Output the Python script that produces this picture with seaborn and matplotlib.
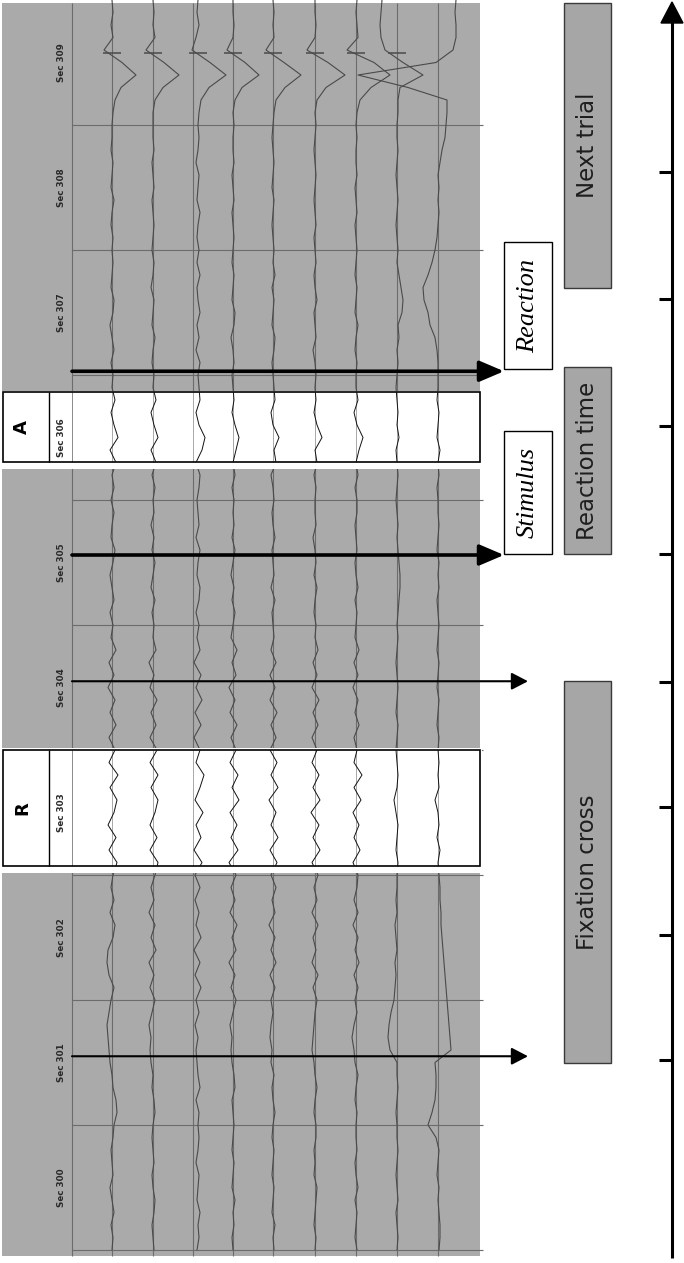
import numpy as np
import pandas as pd
import matplotlib
matplotlib.use("Agg")
import matplotlib.pyplot as plt
from matplotlib.patches import Rectangle, Polygon
import seaborn as sns

sns.set_theme(style="white")
plt.rcParams['font.family'] = ['DejaVu Sans']

# ---------------- data ----------------
seconds = [300, 301, 302, 303, 304, 305, 306, 307, 308, 309]
sec_labels = ["Sec %d" % s for s in seconds]
sample_t = np.round(np.arange(300.0, 310.0001, 0.1), 1)   # 101 samples, 0.1 s apart

# horizontal position of each channel's baseline (px) and its grid line
channel_x = [112, 153, 198, 233, 273, 315, 356, 397, 438]
grid_x = [112, 153, 193, 233, 273, 315, 356, 397, 438]

# trace offsets (px) per 0.1 s, from Sec 300.0 up to 310.0
ch1 = [0, 1, -1, 2, 0, -2, 1, 0, -1, 1,
       2, 5, 4, 1, 0, -2, -3, -4, -5, -3,
       -1, 2, -3, -5, -4, 1, 3, -2, 2, -1,
       1, 5, -3, 4, -4, 2, 5, -2, 6, -3,
       3, -3, 4, -2, 3, -4, 2, -3, 4, -1,
       1, -2, 2, 0, -2, 1, 3, -1, 0, 2,
       -1, 2, 0, 4, -2, 6, 2, -1, 3, 0,
       1, -1, 2, 0, -2, 1, 2, -1, 0, 1,
       0, 1, -1, 0, 2, -1, 0, 1, -1, 0,
       0, 1, 3, 9, 24, 10, -8, 1, -1, 1,
       0]
ch2 = [1, 0, -1, 1, 2, 0, -1, 1, 0, -1,
       0, 2, 1, -1, 0, -2, -3, -2, -4, -1,
       2, -3, 1, -4, 3, -2, 2, -4, 1, -2,
       2, 5, -3, 4, -3, 2, 5, -2, 5, -3,
       4, -3, 3, -2, 4, -3, 1, -4, 3, 0,
       1, -1, 2, -2, 0, 2, -1, 1, -2, 1,
       0, 2, -1, 3, -2, 5, 1, -2, 3, 0,
       1, -1, 0, 2, -1, 0, 1, -2, 0, 1,
       -1, 0, 1, 0, -1, 1, 0, -1, 1, 0,
       0, 0, 2, 10, 26, 11, -7, 2, 0, 1,
       0]
ch3 = [-1, 1, 0, 2, -1, 0, 1, -2, 0, 1,
       0, 1, -2, 2, 0, -1, -2, 0, -3, 1,
       -2, 3, -3, 2, -4, 3, -2, 1, -3, 2,
       -3, 4, -4, 3, -2, 5, -3, 2, 6, -2,
       2, -4, 3, -3, 4, -2, 3, -4, 2, -1,
       1, -2, 1, 2, -1, 0, 2, -2, 1, 0,
       -1, 1, 2, -2, 4, 7, 1, -2, 2, 1,
       0, 2, -2, 1, -1, 2, 0, -1, 2, -1,
       1, -1, 0, 2, -1, 0, 1, -2, 0, 1,
       0, 1, 3, 11, 28, 12, -6, -2, 1, -1,
       0]
ch4 = [0, -1, 1, 0, 2, -1, 0, 1, -1, 0,
       1, 0, -1, 2, 1, -1, -2, -1, -3, 0,
       3, -2, 2, -4, 3, -1, 4, -3, 2, -2,
       3, -4, 5, -2, 4, -3, 6, -1, 5, -3,
       3, -2, 4, -3, 2, -4, 3, -1, 4, -2,
       0, 2, -1, 1, -2, 0, 2, -1, 1, 0,
       1, -1, 2, 0, 3, 6, 2, -1, 1, 0,
       -1, 1, 0, -2, 1, 2, -1, 0, 1, -1,
       0, 1, 0, -1, 1, 0, -1, 1, 0, 0,
       1, 0, 2, 9, 26, 12, -6, 0, 1, 0,
       0]
ch5 = [1, 0, 2, -1, 0, 1, -1, 0, 1, -1,
       0, 2, 0, -1, 1, -2, -1, -3, -2, 0,
       -2, 2, -3, 3, -2, 2, -4, 2, -1, 3,
       -2, 4, -3, 5, -2, 3, -4, 5, -2, 4,
       -3, 3, -2, 4, -3, 2, -3, 3, -2, 1,
       0, -1, 2, -2, 1, 0, -1, 2, 0, -1,
       1, 0, -2, 3, 1, 6, 0, -2, 2, 1,
       0, -1, 1, 2, -1, 0, 1, -1, 2, 0,
       1, 0, -1, 0, 1, -1, 0, 1, 0, -1,
       0, 1, 3, 12, 28, 11, -7, 1, 0, 1,
       0]
ch6 = [0, 1, -1, 0, 1, 2, -1, 0, -1, 1,
       1, -1, 0, 2, 0, -1, -3, -2, -1, 0,
       2, -2, 3, -3, 1, -2, 3, -3, 2, -1,
       3, -3, 5, -2, 4, -4, 5, -2, 4, -3,
       2, -3, 3, -2, 4, -3, 2, -2, 3, 0,
       1, -1, 0, 2, -1, 1, 0, -2, 1, 0,
       0, 1, -1, 2, 0, 7, 2, -1, 1, 0,
       1, 0, -2, 1, 0, -1, 2, 0, -1, 1,
       0, -1, 1, 0, -1, 0, 1, 0, -1, 0,
       1, 0, 2, 11, 30, 13, -8, 0, 1, 0,
       0]
ch7 = [1, -1, 0, 1, -1, 2, 0, -1, 1, 0,
       0, 1, -1, 0, 2, -1, -2, -4, -2, 1,
       -1, 2, -2, 3, -1, 2, -3, 2, -2, 1,
       2, -3, 4, -2, 3, -3, 5, -2, 6, -2,
       1, -2, 3, -1, 2, -3, 2, -2, 3, -1,
       0, 1, -1, 2, 0, -1, 1, 0, -1, 1,
       1, -1, 2, 0, 3, 7, 1, -2, 2, 0,
       0, 1, -1, 0, 2, -1, 0, 1, -1, 0,
       1, 0, -1, 1, 0, -1, 1, 0, 0, 1,
       0, 1, 4, 15, 34, 18, -9, 2, 1, 0,
       1]
ch8 = [0, 1, 0, -1, 1, 0, -1, 0, 1, 0,
       0, -1, 0, 1, 0, 0, -7, -9, -8, -6,
       -3, -2, -1, -2, 0, -1, -2, 0, -1, 0,
       0, 1, -1, 0, 1, -1, -3, 0, 1, 0,
       -1, 0, 1, -1, 0, 1, 0, -1, 0, 1,
       0, 1, 2, 3, 3, 2, 1, 0, 1, 0,
       -1, 0, 1, 0, -1, 2, 0, 1, 0, -1,
       0, 1, 0, 2, 1, 5, 6, 4, 2, 0,
       1, 0, -1, 0, 1, 0, -1, 0, 1, 0,
       0, 1, 1, 3, 26, 6, -12, -16, -17, -16,
       -15]
ch9 = [1, 2, 2, 1, 0, 1, -1, 0, 1, -2,
       -10, -6, -3, -2, -2, -3, 13, 12, 11, 10,
       9, 8, 7, 6, 5, 4, 3, 3, 2, 2,
       1, 0, 2, -1, 1, 0, -3, 1, 0, 1,
       0, 1, -1, 0, 1, -1, 0, 1, -1, 0,
       1, 0, -1, 1, 0, 1, -1, 0, 1, 0,
       0, -1, 1, 0, 2, -1, 0, 1, -1, 0,
       0, 0, -1, -3, -8, -10, -14, -15, -10, -6,
       -3, -1, 0, 1, 0, 1, 0, 2, 4, 7,
       8, 9, 9, -30, -80, -2, 15, 18, 18, 17,
       18]
channels = [ch1, ch2, ch3, ch4, ch5, ch6, ch7, ch8, ch9]

# artefact marks across channels 1-8 in Sec 309
artefact_t = 309.58
artefact_channels = [0, 1, 2, 3, 4, 5, 6, 7]

# highlighted (white) epochs
highlight_names = ["R", "A"]
highlight_start = [303.07, 306.30]
highlight_end = [304.00, 306.86]

# event markers (arrows out of the recording)
marker_t = [301.55, 304.55, 305.56, 307.03]
marker_bold = [False, False, True, True]

# callout boxes
callout_names = ["Stimulus", "Reaction"]
callout_start = [305.57, 307.05]
callout_end = [306.55, 308.06]

# task phases (grey bars)
phase_names = ["Fixation cross", "Reaction time", "Next trial"]
phase_start = [301.50, 305.57, 307.70]
phase_end = [304.55, 307.06, 309.976]

# timeline ticks
timeline_ticks = [301.52, 302.52, 303.54, 304.54, 305.57, 306.59, 307.61, 308.62]

# ---------------- figure ----------------
fig = plt.figure(figsize=(6.84, 12.63), dpi=100)
ax = fig.add_axes([0, 0, 1, 1])
ax.set_xlim(0, 684)
ax.set_ylim(299.896, 310.0)
ax.axis("off")

# long table of traces
rows = []
for ci, vals in enumerate(channels):
    for tt, v in zip(sample_t, vals):
        rows.append((ci, tt, channel_x[ci] + v))
traces = pd.DataFrame(rows, columns=["channel", "t", "x"])

PANEL = "#aaaaaa"
GRID = "#6c6c6c"

# grey recording panel
ax.add_patch(Rectangle((2, 299.952), 478, 310.0 - 299.952 - 0.024,
                       facecolor=PANEL, edgecolor="none", zorder=1))
# frame / grid
ax.vlines(72, 299.952, 309.976, color=GRID, lw=0.8, zorder=2)
ax.vlines(grid_x, 299.952, 309.976, color=GRID, lw=0.8, zorder=2)
ax.hlines(seconds, 72, 483, color=GRID, lw=0.8, zorder=2)

# grey traces
sns.lineplot(data=traces, x="x", y="t", units="channel", estimator=None,
             orient="y", sort=False, color="#4a4a4a", lw=0.8, ax=ax, zorder=3)
for ci in artefact_channels:
    ax.hlines(artefact_t, channel_x[ci] - 9, channel_x[ci] + 9,
              color="#4a4a4a", lw=1.1, zorder=3)

# white highlighted epochs
for name, s0, s1 in zip(highlight_names, highlight_start, highlight_end):
    ax.add_patch(Rectangle((2, s0 - 0.05), 480, (s1 - s0) + 0.065,
                           facecolor="white", edgecolor="none", zorder=4))
    box = Rectangle((3, s0), 477, s1 - s0, facecolor="none",
                    edgecolor="black", lw=1.2, zorder=6)
    ax.add_patch(box)
    ax.vlines(49, s0, s1, color="black", lw=1.0, zorder=6)
    ax.vlines(72, s0, s1, color="#8a8a8a", lw=0.7, zorder=5)
    ax.vlines(grid_x, s0, s1, color="#9a9a9a", lw=0.6, zorder=5)
    clip = Rectangle((3, s0), 477, s1 - s0, transform=ax.transData)
    n0 = len(ax.lines)
    sns.lineplot(data=traces, x="x", y="t", units="channel", estimator=None,
                 orient="y", sort=False, color="#111111", lw=0.7, ax=ax, zorder=6)
    for ln in ax.lines[n0:]:
        ln.set_clip_path(clip)
    ax.text(22, (s0 + s1) / 2, name, rotation=90, ha="center", va="center",
            fontsize=13, fontweight="bold", color="black", zorder=7)

# second labels
for s, lab in zip(seconds, sec_labels):
    ax.text(61, s + 0.5, lab, rotation=90, ha="center", va="center",
            fontsize=6.3, fontweight="bold", color="#2a2a2a", zorder=7)

# event arrows
for tm, bold in zip(marker_t, marker_bold):
    if bold:
        ax.annotate("", xy=(504, tm), xytext=(72, tm),
                    arrowprops=dict(arrowstyle="-|>,head_length=0.75,head_width=0.32",
                                    lw=2.6, color="black", mutation_scale=20,
                                    shrinkA=0, shrinkB=0), zorder=8)
    else:
        ax.annotate("", xy=(528, tm), xytext=(72, tm),
                    arrowprops=dict(arrowstyle="-|>,head_length=0.5,head_width=0.26",
                                    lw=1.5, color="black", mutation_scale=20,
                                    shrinkA=0, shrinkB=0), zorder=8)

# callout boxes
for name, s0, s1 in zip(callout_names, callout_start, callout_end):
    ax.add_patch(Rectangle((504, s0), 48, s1 - s0, facecolor="white",
                           edgecolor="black", lw=1.0, zorder=6))
    ax.text(528, (s0 + s1) / 2, name, rotation=90, ha="center", va="center",
            fontsize=19, fontstyle="italic", family=["Liberation Serif"],
            color="black", zorder=7)

# phase bars
for name, s0, s1 in zip(phase_names, phase_start, phase_end):
    ax.add_patch(Rectangle((564, s0), 47, s1 - s0, facecolor="#a6a6a6",
                           edgecolor="#3a3a3a", lw=1.0, zorder=6))
    ax.text(588, (s0 + s1) / 2, name, rotation=90, ha="center", va="center",
            fontsize=16.5, color="#1e1e1e", zorder=7)

# timeline axis
ax.vlines(672, 299.936, 309.83, color="black", lw=2.2, zorder=8)
ax.hlines(timeline_ticks, 659, 672, color="black", lw=2.2, zorder=8)
ax.add_patch(Polygon([(661, 309.816), (683, 309.816), (672, 309.984)],
                     closed=True, facecolor="black", edgecolor="black", zorder=8))

fig.savefig("out.png", dpi=100, facecolor="white")
